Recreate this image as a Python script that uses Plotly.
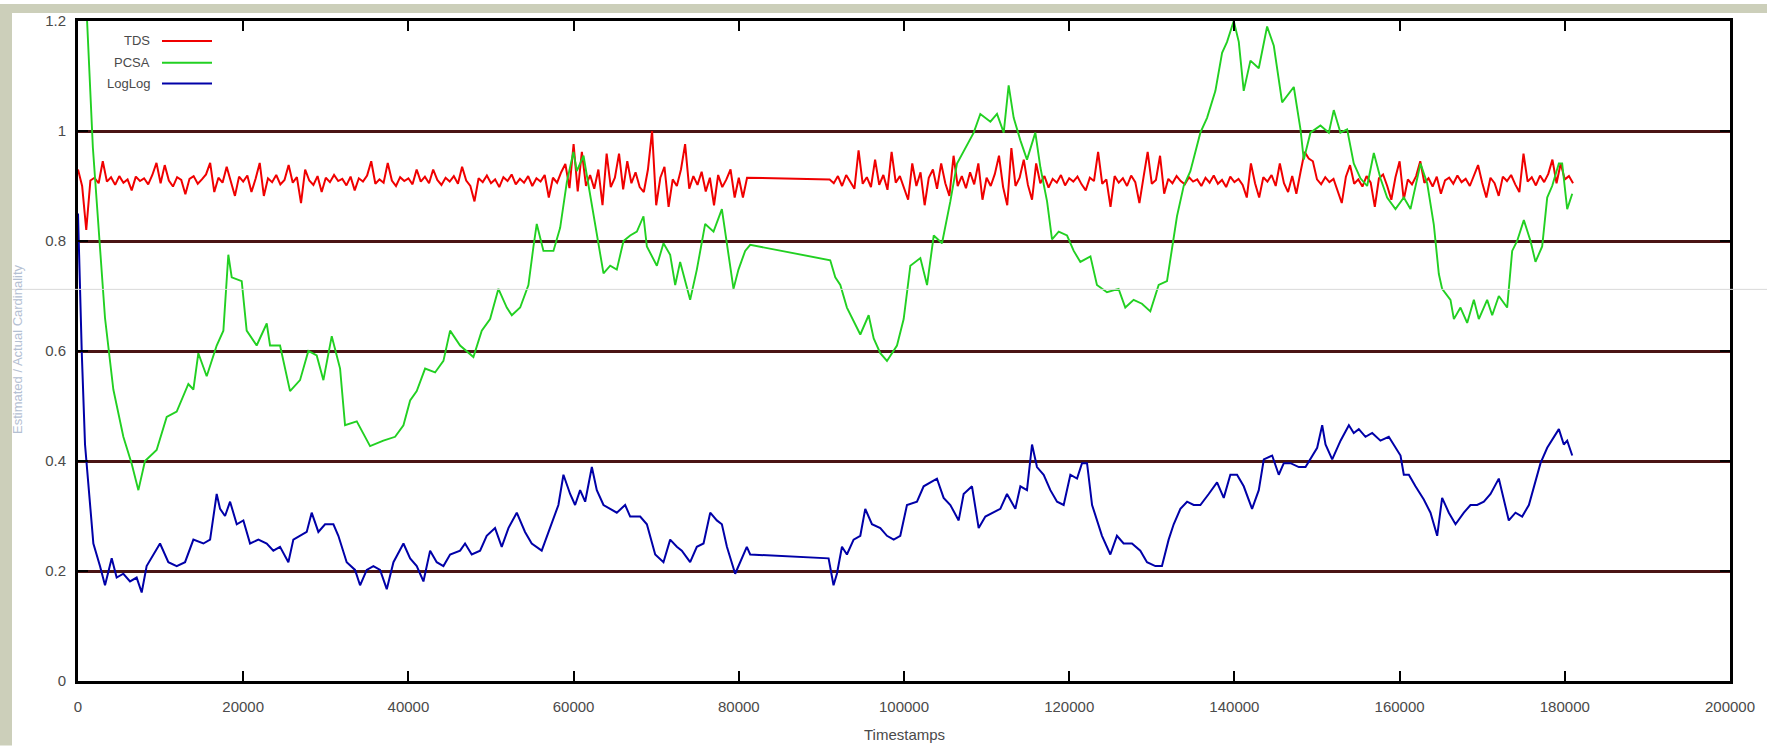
import plotly.graph_objects as go

# ---------------- data ----------------
series_names = ["TDS", "PCSA", "LogLog"]
series_colors = ["#f00000", "#22d022", "#0000a8"]
series_widths = [2.0, 1.9, 2.0]

x_ticks = [0, 20000, 40000, 60000, 80000, 100000, 120000, 140000, 160000, 180000, 200000]
y_ticks = [0, 0.2, 0.4, 0.6, 0.8, 1.0, 1.2]

# TDS: sampled every 500 timestamps, two runs (no samples between ~81000 and ~91000)
tds_step = 500
tds_run1_start = 0
tds_run1 = [
    0.930, 0.900, 0.820, 0.910, 0.915, 0.905, 0.945, 0.908, 0.916, 0.902,
    0.918, 0.906, 0.912, 0.892, 0.917, 0.909, 0.914, 0.903, 0.920, 0.942,
    0.905, 0.938, 0.910, 0.899, 0.916, 0.911, 0.885, 0.913, 0.918, 0.904,
    0.912, 0.921, 0.942, 0.889, 0.915, 0.906, 0.935, 0.910, 0.882, 0.917,
    0.908, 0.919, 0.889, 0.913, 0.942, 0.882, 0.914, 0.907, 0.920, 0.903,
    0.911, 0.938, 0.906, 0.916, 0.869, 0.930, 0.910, 0.902, 0.918, 0.889,
    0.915, 0.907, 0.920, 0.909, 0.913, 0.901, 0.917, 0.892, 0.914, 0.908,
    0.919, 0.945, 0.904, 0.912, 0.906, 0.942, 0.910, 0.900, 0.916, 0.909,
    0.914, 0.903, 0.930, 0.908, 0.917, 0.905, 0.930, 0.911, 0.902, 0.915,
    0.908, 0.918, 0.904, 0.935, 0.910, 0.900, 0.872, 0.914, 0.907, 0.919,
    0.905, 0.912, 0.898, 0.916, 0.909, 0.921, 0.903, 0.913, 0.906, 0.918,
    0.900, 0.914, 0.908, 0.920, 0.879, 0.915, 0.906, 0.925, 0.940, 0.896,
    0.976, 0.890, 0.962, 0.900, 0.920, 0.895, 0.930, 0.865, 0.959, 0.898,
    0.915, 0.959, 0.894, 0.945, 0.905, 0.925, 0.898, 0.889, 0.930, 1.000,
    0.865, 0.915, 0.935, 0.862, 0.912, 0.900, 0.930, 0.976, 0.895, 0.918,
    0.902, 0.926, 0.890, 0.915, 0.865, 0.920, 0.898, 0.912, 0.930, 0.879,
    0.915, 0.879, 0.915,
]
tds_run2_start = 91000
tds_run2 = [
    0.912, 0.905, 0.918, 0.900, 0.920, 0.908, 0.895, 0.965, 0.904, 0.916,
    0.898, 0.948, 0.902, 0.920, 0.893, 0.962, 0.906, 0.918, 0.897, 0.875,
    0.941, 0.900, 0.925, 0.865, 0.915, 0.930, 0.895, 0.941, 0.905, 0.882,
    0.955, 0.900, 0.918, 0.896, 0.925, 0.903, 0.941, 0.875, 0.915, 0.900,
    0.922, 0.955, 0.898, 0.865, 0.969, 0.900, 0.915, 0.948, 0.902, 0.875,
    0.941, 0.905, 0.918, 0.897, 0.913, 0.906, 0.920, 0.901, 0.914, 0.908,
    0.917, 0.903, 0.892, 0.915, 0.909, 0.962, 0.904, 0.912, 0.862, 0.918,
    0.906, 0.914, 0.900, 0.919, 0.907, 0.869, 0.916, 0.962, 0.904, 0.911,
    0.955, 0.886, 0.913, 0.905, 0.918, 0.909, 0.903, 0.916, 0.908, 0.912,
    0.900, 0.915, 0.906, 0.919, 0.904, 0.911, 0.898, 0.917, 0.907, 0.913,
    0.902, 0.879, 0.941, 0.905, 0.879, 0.916, 0.908, 0.920, 0.900, 0.941,
    0.905, 0.889, 0.918, 0.886, 0.925, 0.962, 0.950, 0.945, 0.912, 0.903,
    0.916, 0.907, 0.913, 0.889, 0.869, 0.917, 0.938, 0.904, 0.912, 0.899,
    0.918, 0.906, 0.862, 0.914, 0.921, 0.900, 0.875, 0.916, 0.945, 0.875,
    0.912, 0.903, 0.918, 0.945, 0.906, 0.914, 0.899, 0.917, 0.886, 0.910,
    0.915, 0.904, 0.919, 0.907, 0.913, 0.900, 0.918, 0.938, 0.906, 0.879,
    0.915, 0.905, 0.882, 0.917, 0.909, 0.920, 0.903, 0.889, 0.959, 0.908,
    0.916, 0.901, 0.919, 0.907, 0.922, 0.948, 0.905, 0.941, 0.912, 0.918,
    0.905,
]

pcsa_x = [
    0, 1100, 1800, 2660, 3270, 4280, 5490, 6500, 7310, 8110,
    9520, 10740, 11950, 13360, 13970, 14570, 15580, 16790, 17600, 18200,
    18610, 19820, 20420, 21630, 22850, 23250, 24460, 25670, 26880, 27890,
    28900, 29710, 30720, 31730, 32330, 33750, 35360, 36970, 38390, 39400,
    40210, 41010, 42020, 43230, 44240, 45050, 46260, 47870, 48880, 49890,
    50900, 51910, 52520, 53530, 54530, 55140, 55540, 56350, 57560, 58370,
    59180, 59980, 60390, 61200, 62000, 62810, 63620, 64430, 65230, 66040,
    66850, 67660, 68460, 68870, 70080, 70880, 71690, 72300, 72900, 74110,
    74920, 75930, 76940, 77950, 78560, 79360, 79960, 80770, 81380, 91070,
    91680, 92290, 93090, 94710, 95720, 96330, 97130, 97940, 99150, 99960,
    100770, 101980, 102790, 103600, 104600, 105610, 106420, 107630, 108440, 109240,
    110460, 111260, 112070, 112670, 113280, 114090, 114890, 115900, 116510, 117320,
    117920, 118730, 119740, 120550, 121350, 122570, 123360, 124570, 125980, 126790,
    127800, 128810, 129820, 130830, 131840, 133050, 133860, 134670, 135880, 136690,
    137700, 138510, 139110, 139920, 140530, 141130, 141940, 142950, 143960, 144770,
    145780, 147190, 148000, 148400, 149210, 150420, 151430, 152030, 152840, 153650,
    154450, 155260, 156070, 156880, 157680, 158490, 159500, 160510, 161320, 162530,
    163340, 164140, 164750, 165150, 166160, 166570, 167370, 168180, 168990, 169590,
    170600, 171210, 172010, 173020, 173630, 174230, 175040, 175850, 176450, 177260,
    177870, 178470, 179280, 179680, 180290, 180900,
]
pcsa_y = [
    1.45, 1.20, 0.97, 0.79, 0.66, 0.53, 0.444, 0.395, 0.347, 0.40,
    0.42, 0.48, 0.49, 0.54, 0.53, 0.596, 0.554, 0.61, 0.637, 0.775,
    0.734, 0.727, 0.637, 0.61, 0.65, 0.61, 0.61, 0.527, 0.547, 0.60,
    0.592, 0.547, 0.627, 0.568, 0.465, 0.472, 0.427, 0.437, 0.444, 0.465,
    0.51, 0.527, 0.568, 0.561, 0.582, 0.637, 0.61, 0.589, 0.637, 0.658,
    0.713, 0.679, 0.665, 0.679, 0.72, 0.79, 0.831, 0.782, 0.782, 0.824,
    0.907, 0.962, 0.927, 0.955, 0.886, 0.81, 0.741, 0.755, 0.748, 0.80,
    0.81, 0.817, 0.845, 0.79, 0.755, 0.796, 0.775, 0.72, 0.762, 0.693,
    0.748, 0.831, 0.817, 0.858, 0.796, 0.713, 0.748, 0.782, 0.793, 0.765,
    0.734, 0.72, 0.679, 0.630, 0.665, 0.623, 0.596, 0.582, 0.61, 0.658,
    0.755, 0.769, 0.72, 0.81, 0.796, 0.872, 0.941, 0.976, 0.997, 1.031,
    1.017, 1.031, 0.997, 1.083, 1.024, 0.983, 0.948, 0.997, 0.934, 0.872,
    0.803, 0.817, 0.81, 0.782, 0.762, 0.772, 0.72, 0.707, 0.713, 0.679,
    0.693, 0.686, 0.672, 0.72, 0.727, 0.845, 0.90, 0.927, 0.997, 1.024,
    1.073, 1.142, 1.162, 1.20, 1.162, 1.073, 1.128, 1.114, 1.19, 1.155,
    1.052, 1.080, 1.003, 0.948, 0.997, 1.010, 0.997, 1.038, 0.997, 1.003,
    0.941, 0.914, 0.90, 0.96, 0.914, 0.879, 0.858, 0.879, 0.858, 0.941,
    0.905, 0.83, 0.74, 0.713, 0.693, 0.658, 0.679, 0.651, 0.693, 0.658,
    0.693, 0.665, 0.70, 0.679, 0.782, 0.80, 0.838, 0.80, 0.762, 0.79,
    0.879, 0.90, 0.941, 0.941, 0.858, 0.886,
]

loglog_x = [
    0, 450, 850, 1450, 1860, 2660, 3270, 4080, 4680, 5490,
    6300, 7100, 7710, 8310, 9120, 9930, 10940, 11950, 12960, 13970,
    15180, 15990, 16790, 17200, 17800, 18410, 19220, 20020, 20830, 21840,
    22850, 23650, 24460, 25470, 26070, 26880, 27690, 28290, 29100, 29910,
    30920, 31520, 32530, 33540, 34150, 34960, 35760, 36570, 37380, 38190,
    39400, 40210, 41010, 41820, 42630, 43430, 44240, 45050, 46260, 46860,
    47670, 48680, 49480, 50490, 51300, 52110, 53120, 54120, 54930, 56140,
    57350, 58160, 58770, 59580, 60180, 60790, 61400, 62210, 62810, 63620,
    64430, 65230, 66240, 66850, 68060, 68870, 69880, 70880, 71690, 72500,
    73100, 74110, 74920, 75730, 76540, 77340, 77950, 78560, 79560, 80170,
    80970, 81380, 90870, 91470, 91880, 92490, 93090, 93900, 94710, 95310,
    96120, 97130, 97940, 98750, 99550, 100360, 101570, 102380, 103180, 103990,
    104800, 105610, 106620, 107220, 108230, 109040, 109850, 110850, 111660, 112470,
    113480, 114090, 114890, 115500, 116100, 116910, 117720, 118530, 119330, 120140,
    120950, 121550, 122160, 122770, 123580, 123970, 124980, 125780, 126590, 127600,
    128610, 129420, 130430, 131230, 132040, 132650, 133460, 134270, 135070, 135880,
    136890, 137900, 138710, 139510, 140320, 141130, 142140, 142950, 143560, 144570,
    145370, 145980, 146790, 147800, 148610, 149410, 150020, 150630, 151030, 151840,
    152850, 153860, 154450, 155060, 155870, 156680, 157680, 158690, 159500, 160110,
    160510, 161120, 161920, 162930, 163740, 164550, 165150, 165960, 166770, 167780,
    168580, 169390, 170200, 171010, 172010, 172820, 173220, 174030, 174840, 175650,
    176450, 177060, 177870, 178670, 179280, 179880, 180290, 180900,
]
loglog_y = [
    0.85, 0.60, 0.43, 0.32, 0.25, 0.209, 0.174, 0.223, 0.188, 0.195,
    0.181, 0.188, 0.161, 0.209, 0.23, 0.25, 0.216, 0.209, 0.216, 0.257,
    0.25, 0.257, 0.34, 0.313, 0.30, 0.326, 0.285, 0.292, 0.25, 0.257,
    0.25, 0.237, 0.244, 0.216, 0.257, 0.264, 0.271, 0.306, 0.271, 0.285,
    0.285, 0.264, 0.216, 0.202, 0.174, 0.202, 0.209, 0.202, 0.167, 0.216,
    0.25, 0.223, 0.209, 0.181, 0.237, 0.216, 0.209, 0.23, 0.237, 0.25,
    0.23, 0.237, 0.264, 0.278, 0.244, 0.278, 0.306, 0.271, 0.25, 0.237,
    0.285, 0.32, 0.375, 0.34, 0.32, 0.347, 0.326, 0.389, 0.347, 0.32,
    0.313, 0.306, 0.32, 0.299, 0.299, 0.285, 0.23, 0.216, 0.257, 0.244,
    0.237, 0.216, 0.244, 0.25, 0.306, 0.292, 0.285, 0.244, 0.195, 0.216,
    0.244, 0.23, 0.223, 0.174, 0.195, 0.244, 0.23, 0.257, 0.264, 0.313,
    0.285, 0.278, 0.264, 0.257, 0.264, 0.32, 0.326, 0.354, 0.361, 0.368,
    0.333, 0.32, 0.292, 0.34, 0.354, 0.278, 0.299, 0.306, 0.313, 0.34,
    0.313, 0.354, 0.347, 0.43, 0.389, 0.375, 0.347, 0.326, 0.32, 0.375,
    0.368, 0.396, 0.396, 0.32, 0.285, 0.264, 0.23, 0.264, 0.25, 0.25,
    0.237, 0.216, 0.209, 0.209, 0.257, 0.285, 0.313, 0.326, 0.32, 0.32,
    0.34, 0.361, 0.333, 0.375, 0.375, 0.354, 0.313, 0.347, 0.403, 0.41,
    0.375, 0.396, 0.396, 0.389, 0.389, 0.41, 0.424, 0.465, 0.43, 0.403,
    0.437, 0.465, 0.451, 0.458, 0.444, 0.451, 0.437, 0.444, 0.424, 0.41,
    0.375, 0.375, 0.354, 0.33, 0.306, 0.264, 0.333, 0.306, 0.285, 0.306,
    0.32, 0.32, 0.326, 0.34, 0.368, 0.313, 0.292, 0.306, 0.299, 0.32,
    0.361, 0.396, 0.424, 0.444, 0.458, 0.43, 0.437, 0.41,
]

x_title = "Timestamps"
y_title = "Estimated / Actual Cardinality"

# ---------------- build ----------------
tds_x = [tds_run1_start + i * tds_step for i in range(len(tds_run1))] + \
        [tds_run2_start + i * tds_step for i in range(len(tds_run2))]
tds_y = tds_run1 + tds_run2

W, H = 1767, 746
ML, MR, MT, MB = 78, 37, 17, 65
PW, PH = W - ML - MR, H - MT - MB


def px_x(px):
    return (px - ML) / PW


def px_y(py):
    return (H - MB - py) / PH


fig = go.Figure()
for name, xs, ys, col, lw in zip(series_names,
                                 [tds_x, pcsa_x, loglog_x],
                                 [tds_y, pcsa_y, loglog_y],
                                 series_colors, series_widths):
    fig.add_trace(go.Scatter(x=xs, y=ys, mode="lines", name=name,
                             line=dict(color=col, width=lw),
                             showlegend=False))

font_main = "Liberation Sans, Arial, sans-serif"
tick_font = dict(family=font_main, size=15, color="#4a4a4a")

fig.update_layout(
    width=W, height=H,
    margin=dict(l=ML, r=MR, t=MT, b=MB, pad=0),
    paper_bgcolor="white", plot_bgcolor="white",
    showlegend=False,
    xaxis=dict(range=[0, 200000], tickvals=x_ticks,
               ticktext=[str(v) for v in x_ticks],
               showline=True, linecolor="black", linewidth=3, mirror="ticks",
               ticks="inside", ticklen=10, tickwidth=2, tickcolor="black",
               showgrid=False, zeroline=False, tickfont=tick_font,
               ticklabelstandoff=10),
    yaxis=dict(range=[0, 1.2], tickvals=y_ticks,
               ticktext=["0", "0.2", "0.4", "0.6", "0.8", "1", "1.2"],
               showline=True, linecolor="black", linewidth=3, mirror="ticks",
               ticks="inside", ticklen=10, tickwidth=2, tickcolor="black",
               showgrid=True, gridcolor="#4a1414", gridwidth=2.5,
               zeroline=False, tickfont=tick_font, ticklabelstandoff=6),
)

shapes = []
# beige screenshot borders
beige = "#cccfba"
shapes.append(dict(type="rect", xref="paper", yref="paper",
                   x0=px_x(0), x1=px_x(12), y0=px_y(H), y1=px_y(0),
                   fillcolor=beige, line=dict(width=0), layer="above"))
shapes.append(dict(type="rect", xref="paper", yref="paper",
                   x0=px_x(0), x1=px_x(W), y0=px_y(9), y1=px_y(0),
                   fillcolor=beige, line=dict(width=0), layer="above"))
# faint horizontal screen artefact line
shapes.append(dict(type="line", xref="paper", yref="paper",
                   x0=px_x(12), x1=px_x(W), y0=px_y(287), y1=px_y(287),
                   line=dict(color="#d9d9d9", width=1), layer="above"))

annotations = []
# gnuplot-style key: label then sample line
key_rows = [37, 59, 80]
for name, col, py in zip(series_names, series_colors, key_rows):
    annotations.append(dict(text=name, xref="paper", yref="paper",
                            x=px_x(152), y=px_y(py), xanchor="right", yanchor="middle",
                            showarrow=False,
                            font=dict(family=font_main, size=13, color="#4a4a4a")))
    shapes.append(dict(type="line", xref="paper", yref="paper",
                       x0=px_x(162), x1=px_x(212), y0=px_y(py), y1=px_y(py),
                       line=dict(color=col, width=2)))

annotations.append(dict(text=x_title, xref="paper", yref="paper",
                        x=0.5, y=px_y(735), xanchor="center", yanchor="middle",
                        showarrow=False,
                        font=dict(family=font_main, size=15, color="#4a4a4a")))
annotations.append(dict(text=y_title, xref="paper", yref="paper",
                        x=px_x(17), y=px_y(347), xanchor="center", yanchor="middle",
                        textangle=-90, showarrow=False,
                        font=dict(family=font_main, size=13, color="#b4c0d2")))

fig.update_layout(shapes=shapes, annotations=annotations)

fig.write_html("out.html")
